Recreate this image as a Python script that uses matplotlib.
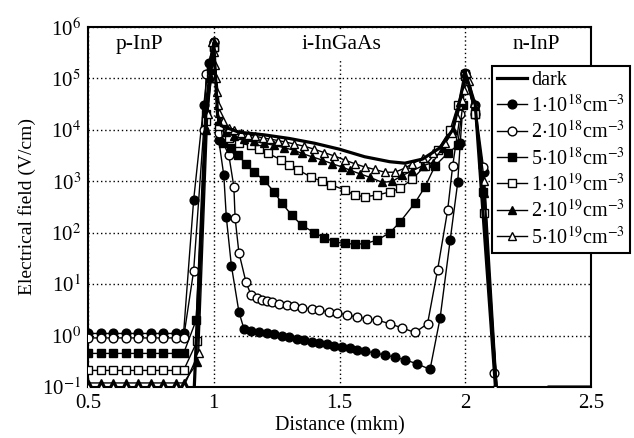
import matplotlib
matplotlib.use('Agg')
import matplotlib.pyplot as plt

plt.rcParams['font.family'] = ['Liberation Serif', 'DejaVu Serif']
plt.rcParams['mathtext.fontset'] = 'stix'

# dark curve
x_dark = [0.50, 0.92, 0.97, 1.00, 1.015, 1.03, 1.10, 1.20, 1.30, 1.40, 1.50, 1.60, 1.70, 1.76,
          1.83, 1.90, 1.95, 1.98, 2.00, 2.04, 2.12, 2.20, 2.33, 2.50]
y_dark = [0.05, 0.05, 3e4, 5e5, 2e4, 1.2e4, 9e3, 8e3, 6.8e3, 5.5e3, 4.2e3, 3e3, 2.4e3, 2.25e3,
          2.7e3, 4.5e3, 1e4, 4e4, 1.3e5, 3e4, 0.1, 0.03, 0.1, 0.1]

x_flat = [0.50, 0.55, 0.60, 0.65, 0.70, 0.75, 0.80, 0.85, 0.88]

# 1e18 cm-3
x_1e18 = x_flat + [0.92, 0.96, 0.98, 1.00, 1.02, 1.04, 1.05, 1.07, 1.10, 1.12, 1.15, 1.18, 1.21,
                   1.24, 1.27, 1.30, 1.33, 1.36, 1.39, 1.42, 1.45, 1.48, 1.51, 1.54, 1.57, 1.60,
                   1.64, 1.68, 1.72, 1.76, 1.81, 1.86, 1.90, 1.94, 1.97, 1.98, 2.00, 2.04, 2.075, 2.13]
y_1e18 = [1.1] * 9 + [430, 3e4, 2e5, 5e5, 6.3e3, 1.3e3, 200, 23, 2.9, 1.35, 1.25, 1.2, 1.12,
                      1.05, 0.98, 0.92, 0.86, 0.81, 0.76, 0.72, 0.68, 0.64, 0.60, 0.57, 0.53, 0.50,
                      0.46, 0.42, 0.38, 0.34, 0.28, 0.22, 2.2, 72, 950, 5.5e3, 1.3e5, 3e4, 1.5e3, 0.05]

# 2e18 cm-3
x_2e18 = x_flat + [0.92, 0.96, 0.97, 1.00, 1.02, 1.06, 1.08, 1.085, 1.10, 1.128, 1.148, 1.17, 1.19,
                   1.21, 1.23, 1.26, 1.29, 1.32, 1.35, 1.39, 1.42, 1.46, 1.49, 1.53, 1.57, 1.61,
                   1.65, 1.70, 1.75, 1.80, 1.85, 1.89, 1.93, 1.95, 1.98, 2.00, 2.04, 2.07, 2.115, 2.13]
y_2e18 = [0.9] * 9 + [18, 1e4, 1.2e5, 5e5, 8.7e3, 3.2e3, 780, 190, 41, 11, 6.2, 5.3, 5.0,
                      4.8, 4.5, 4.2, 3.9, 3.7, 3.5, 3.3, 3.1, 2.9, 2.8, 2.5, 2.3, 2.1,
                      2.0, 1.7, 1.4, 1.15, 1.7, 19, 275, 2e3, 2e4, 1.2e5, 2e4, 1.9e3, 0.19, 0.05]

# 5e18 cm-3
x_5e18 = x_flat + [0.93, 0.97, 0.99, 1.00, 1.036, 1.068, 1.096, 1.128, 1.16, 1.20, 1.24, 1.27,
                   1.31, 1.35, 1.40, 1.44, 1.48, 1.52, 1.56, 1.60, 1.65, 1.70, 1.74, 1.80, 1.84,
                   1.88, 1.93, 1.97, 1.99, 2.00, 2.04, 2.072, 2.13]
y_5e18 = [0.45] * 9 + [2, 2e4, 1.5e5, 4e5, 5.5e3, 4.4e3, 3.2e3, 2.2e3, 1.5e3, 1.05e3, 620, 380,
                       220, 140, 100, 80, 66, 62, 60, 61, 72, 100, 160, 380, 780,
                       2e3, 3.5e3, 5e3, 3e4, 1.2e5, 2e4, 620, 0.05]

# 1e19 cm-3
x_1e19 = x_flat + [0.935, 0.97, 0.99, 1.00, 1.02, 1.06, 1.10, 1.148, 1.18, 1.216, 1.268, 1.30,
                   1.336, 1.388, 1.43, 1.468, 1.52, 1.56, 1.60, 1.65, 1.70, 1.74, 1.79, 1.84,
                   1.89, 1.94, 1.97, 2.00, 2.04, 2.076, 2.13]
y_1e19 = [0.21] * 9 + [0.8, 1.5e4, 1e5, 4e5, 1.2e4, 6.9e3, 5.5e3, 5e3, 4.2e3, 3.5e3, 2.6e3, 2.1e3,
                       1.66e3, 1.2e3, 1e3, 850, 680, 540, 500, 540, 620, 730, 1.1e3, 2e3,
                       4e3, 1e4, 3e4, 1.1e5, 2e4, 240, 0.05]

# 2e19 cm-3
x_2e19 = x_flat + [0.935, 0.97, 0.99, 1.00, 1.02, 1.05, 1.08, 1.12, 1.16, 1.20, 1.24, 1.28, 1.32,
                   1.35, 1.39, 1.43, 1.47, 1.51, 1.54, 1.58, 1.62, 1.67, 1.71, 1.75, 1.79, 1.83,
                   1.87, 1.91, 1.95, 1.98, 2.00, 2.04, 2.075, 2.13]
y_2e19 = [0.12] * 9 + [0.3, 1e4, 1e5, 5e5, 1.5e4, 9e3, 7.5e3, 6.5e3, 6e3, 5.5e3, 5e3, 4.5e3, 4e3,
                       3.5e3, 3e3, 2.6e3, 2.2e3, 1.9e3, 1.66e3, 1.4e3, 1.2e3, 950, 1e3, 1.3e3, 1.6e3, 2e3,
                       2.3e3, 4.5e3, 1e4, 3.5e4, 1.3e5, 3e4, 600, 0.05]

# 5e19 cm-3
x_5e19 = x_flat + [0.94, 0.976, 0.995, 1.00, 1.004, 1.008, 1.012, 1.016, 1.022, 1.036, 1.06, 1.08,
                   1.108, 1.136, 1.165, 1.195, 1.225, 1.255, 1.285, 1.32, 1.36, 1.40, 1.44, 1.48,
                   1.52, 1.56, 1.60, 1.64, 1.68, 1.72, 1.76, 1.79, 1.83, 1.87, 1.92, 1.948, 1.968,
                   1.988, 1.995, 2.005, 2.016, 2.036, 2.076, 2.12, 2.13]
y_5e19 = [0.1] * 9 + [0.46, 2e4, 5e5, 3.2e5, 1.8e5, 1e5, 5.5e4, 3e4, 2.1e4, 1.5e4, 1.1e4, 1e4,
                      8.7e3, 8e3, 7.5e3, 7e3, 6.6e3, 6.2e3, 5.8e3, 5.3e3, 4.8e3, 4.2e3, 3.6e3, 3.1e3,
                      2.6e3, 2.2e3, 1.9e3, 1.7e3, 1.5e3, 1.5e3, 1.8e3, 2.2e3, 2.8e3, 3.5e3, 5.5e3, 8.7e3, 1.8e4,
                      3.8e4, 6e4, 1.3e5, 9e4, 3.3e4, 1e3, 0.1, 0.05]

series = [
    (x_1e18, y_1e18, 'o', 'black', r'1$\cdot$10$^{18}$cm$^{-3}$'),
    (x_2e18, y_2e18, 'o', 'white', r'2$\cdot$10$^{18}$cm$^{-3}$'),
    (x_5e18, y_5e18, 's', 'black', r'5$\cdot$10$^{18}$cm$^{-3}$'),
    (x_1e19, y_1e19, 's', 'white', r'1$\cdot$10$^{19}$cm$^{-3}$'),
    (x_2e19, y_2e19, '^', 'black', r'2$\cdot$10$^{19}$cm$^{-3}$'),
    (x_5e19, y_5e19, '^', 'white', r'5$\cdot$10$^{19}$cm$^{-3}$'),
]

fig = plt.figure(figsize=(6.34, 4.38), dpi=100)
ax = fig.add_axes([0.1388, 0.1164, 0.7934, 0.822])

ax.plot(x_dark, y_dark, color='black', lw=2.3, label='dark', zorder=4)
for xs, ys, m, fc, lab in series:
    ax.plot(xs, ys, color='black', lw=1.0, marker=m, markersize=6.3,
            markerfacecolor=fc, markeredgecolor='black', markeredgewidth=1.0,
            label=lab, zorder=3)

ax.set_yscale('log')
ax.set_xlim(0.5, 2.5)
ax.set_ylim(0.1, 1e6)
ax.set_xticks([0.5, 1, 1.5, 2, 2.5])
ax.set_xticklabels(['0.5', '1', '1.5', '2', '2.5'])
ax.set_yticks([10.0 ** k for k in range(-1, 7)])
ax.set_yticklabels([r'10$^{%d}$' % k for k in range(-1, 7)])
ax.minorticks_off()
ax.tick_params(length=0, labelsize=15, pad=5)
ax.grid(True, which='major', color='black', linestyle=(0, (1, 2)), lw=1.0)
for s in ax.spines.values():
    s.set_linewidth(1.5)

ax.set_xlabel('Distance (mkm)', fontsize=14.5, labelpad=2)
ax.set_ylabel('Electrical field (V/cm)', fontsize=14, labelpad=4)

trans = ax.get_xaxis_transform()
ax.text(0.705, 0.95, 'p-InP', transform=trans, fontsize=15.5, ha='center', va='center')
ax.text(1.508, 0.95, 'i-InGaAs', transform=trans, fontsize=15.5, ha='center', va='center',
        bbox=dict(facecolor='white', edgecolor='none', pad=4), zorder=2)
ax.text(2.284, 0.95, 'n-InP', transform=trans, fontsize=15.5, ha='center', va='center')

leg = ax.legend(loc='upper left', bbox_to_anchor=(0.803, 0.892), fontsize=14.5,
                frameon=True, fancybox=False, edgecolor='black', framealpha=1,
                handlelength=1.5, handletextpad=0.2, borderpad=0.25,
                labelspacing=0.22, borderaxespad=0)
leg.get_frame().set_linewidth(1.5)
leg.set_zorder(10)

fig.savefig('out.png', dpi=100)
